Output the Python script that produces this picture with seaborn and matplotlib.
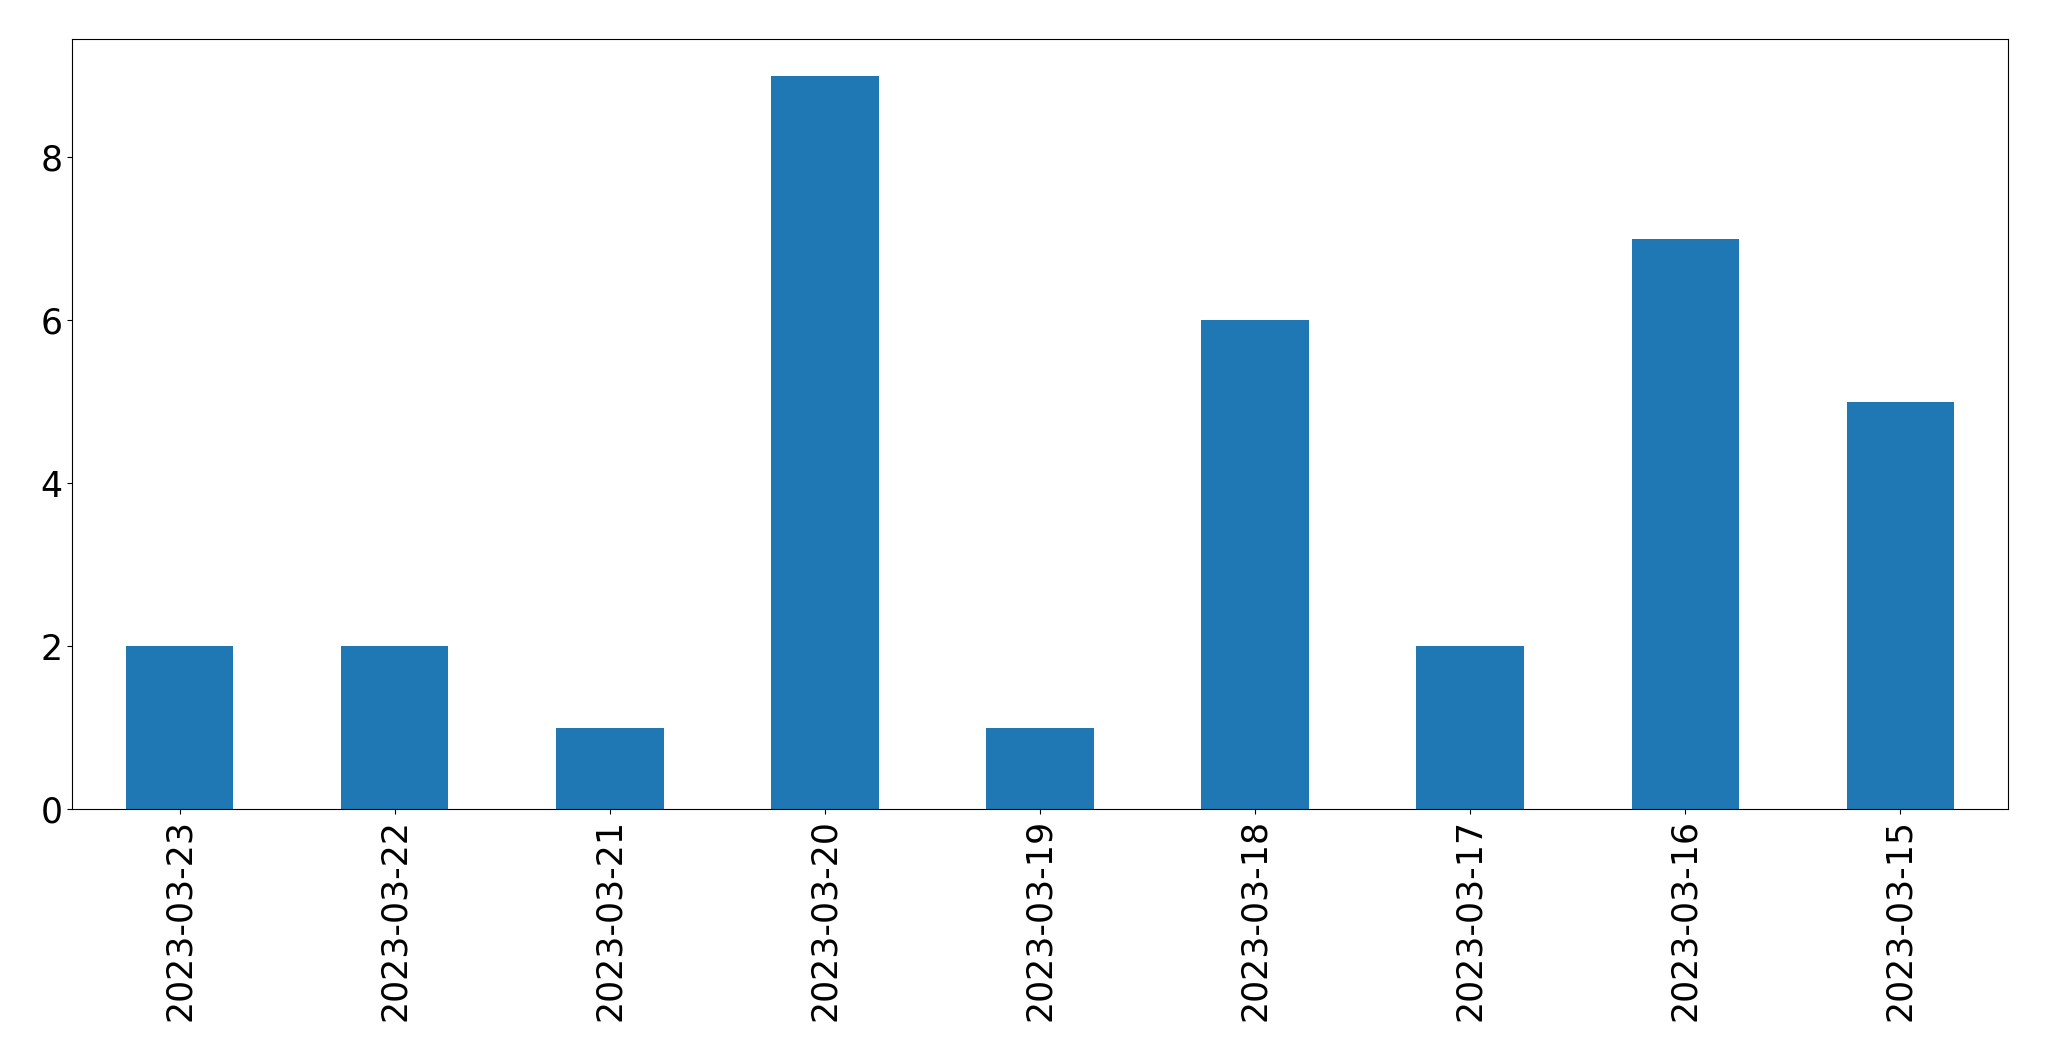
import matplotlib
matplotlib.use("Agg")
import matplotlib.pyplot as plt
import seaborn as sns

# datos
fechas = ["2023-03-23", "2023-03-22", "2023-03-21", "2023-03-20", "2023-03-19",
          "2023-03-18", "2023-03-17", "2023-03-16", "2023-03-15"]
conteos = [2, 2, 1, 9, 1, 6, 2, 7, 5]

W, H = 2049, 1061
fig = plt.figure(figsize=(W / 100, H / 100), dpi=100)
ax = fig.add_axes([72 / W, 1 - 809 / H, (2008 - 72) / W, (809 - 39) / H])

sns.barplot(x=fechas, y=conteos, order=fechas, ax=ax, width=0.5,
            color="#1f77b4", saturation=1, linewidth=0)

ax.set_xlim(-0.5, len(fechas) - 0.5)
ax.set_ylim(0, 9.45)
ax.set_yticks([0, 2, 4, 6, 8])
ax.set_xlabel("")
ax.set_ylabel("")
ax.tick_params(axis="both", labelsize=25)
plt.setp(ax.get_xticklabels(), rotation=90)

fig.savefig("out.png", dpi=100)
